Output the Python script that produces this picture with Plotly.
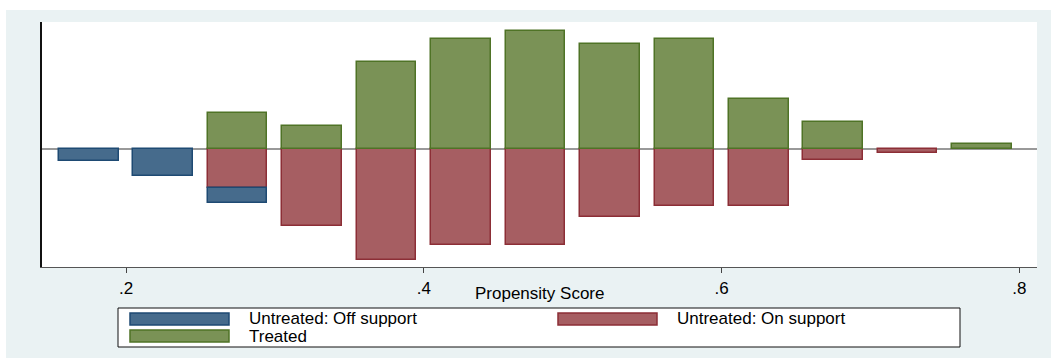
import plotly.graph_objects as go

# ---- data ----
off_centers = [0.175, 0.225, 0.275]
untreated_off = [-3.1, -7.0, -3.9]

on_centers = [0.275, 0.325, 0.375, 0.425, 0.475, 0.525, 0.575, 0.625, 0.675, 0.725]
untreated_on = [-10.1, -20.0, -28.8, -24.9, -24.9, -17.8, -15.0, -15.0, -3.0, -1.0]

treated_centers = [0.275, 0.325, 0.375, 0.425, 0.475, 0.525, 0.575, 0.625, 0.675, 0.775]
treated = [9.4, 5.8, 22.4, 28.4, 30.7, 27.1, 28.4, 13.0, 7.0, 1.1]

x_tick_vals = [0.2, 0.4, 0.6, 0.8]
x_tick_text = [".2", ".4", ".6", ".8"]
series_names = ["Untreated: Off support", "Untreated: On support", "Treated"]
x_title = "Propensity Score"

# ---- style ----
W, H = 1051, 358
ML, MR, MT, MB = 42, 14, 22, 91
PW, PH = W - ML - MR, H - MT - MB
BG = "#EAF2F3"
FONT = "Liberation Sans"
FS = 17
fills = ["#466B8C", "#A65E62", "#7A9256"]
lines = ["#1E4A73", "#8C2E36", "#4F7326"]
BAR_W = 0.04


def px(xpix):
    return (xpix - ML) / PW


def py(ypix):
    return (H - MB - ypix) / PH


fig = go.Figure()
# On-support first so off-support stacks below it
fig.add_trace(go.Bar(x=on_centers, y=untreated_on, width=BAR_W, name=series_names[1],
                     marker=dict(color=fills[1], line=dict(color=lines[1], width=1.5))))
fig.add_trace(go.Bar(x=off_centers, y=untreated_off, width=BAR_W, name=series_names[0],
                     marker=dict(color=fills[0], line=dict(color=lines[0], width=1.5))))
fig.add_trace(go.Bar(x=treated_centers, y=treated, width=BAR_W, name=series_names[2],
                     marker=dict(color=fills[2], line=dict(color=lines[2], width=1.5))))

shapes = [
    # white strips around the light background
    dict(type="rect", xref="paper", yref="paper", x0=px(0), x1=px(6), y0=py(0), y1=py(H),
         fillcolor="white", line=dict(width=0), layer="below"),
    dict(type="rect", xref="paper", yref="paper", x0=px(0), x1=px(W), y0=py(0), y1=py(10),
         fillcolor="white", line=dict(width=0), layer="below"),
    # legend box
    dict(type="rect", xref="paper", yref="paper", x0=px(118), x1=px(960), y0=py(308), y1=py(347),
         fillcolor="white", line=dict(color="#111111", width=1)),
]
annotations = [
    dict(text=x_title, xref="paper", yref="paper", x=0.5, y=py(293), xanchor="center",
         yanchor="middle", showarrow=False, font=dict(family=FONT, size=FS, color="black")),
]
legend_items = [
    (0, 130, 313, 247),
    (1, 558, 313, 675),
    (2, 130, 330, 247),
]
for idx, sx, sy, tx in legend_items:
    shapes.append(dict(type="rect", xref="paper", yref="paper", x0=px(sx), x1=px(sx + 99),
                       y0=py(sy), y1=py(sy + 12), fillcolor=fills[idx],
                       line=dict(color=lines[idx], width=1.5)))
    annotations.append(dict(text=series_names[idx], xref="paper", yref="paper", x=px(tx),
                            y=py(sy + 6), xanchor="left", yanchor="middle", showarrow=False,
                            font=dict(family=FONT, size=FS, color="black")))

fig.update_layout(
    width=W, height=H,
    margin=dict(l=ML, r=MR, t=MT, b=MB, pad=0),
    paper_bgcolor=BG, plot_bgcolor="white",
    barmode="relative", bargap=0,
    showlegend=False,
    shapes=shapes, annotations=annotations,
    font=dict(family=FONT, size=FS, color="black"),
)
fig.update_xaxes(range=[0.14358, 0.81186], tickvals=x_tick_vals, ticktext=x_tick_text,
                 ticks="outside", ticklen=5, tickwidth=1.2, tickcolor="#444444",
                 showline=True, linecolor="#555555", linewidth=1.2, showgrid=False,
                 zeroline=False, tickfont=dict(family=FONT, size=FS, color="black"))
fig.update_yaxes(range=[-30.73, 32.91], showticklabels=False, ticks="", showgrid=False,
                 showline=True, linecolor="#111111", linewidth=1.5,
                 zeroline=True, zerolinecolor="#999999", zerolinewidth=1.5)

fig.write_html("out.html")
